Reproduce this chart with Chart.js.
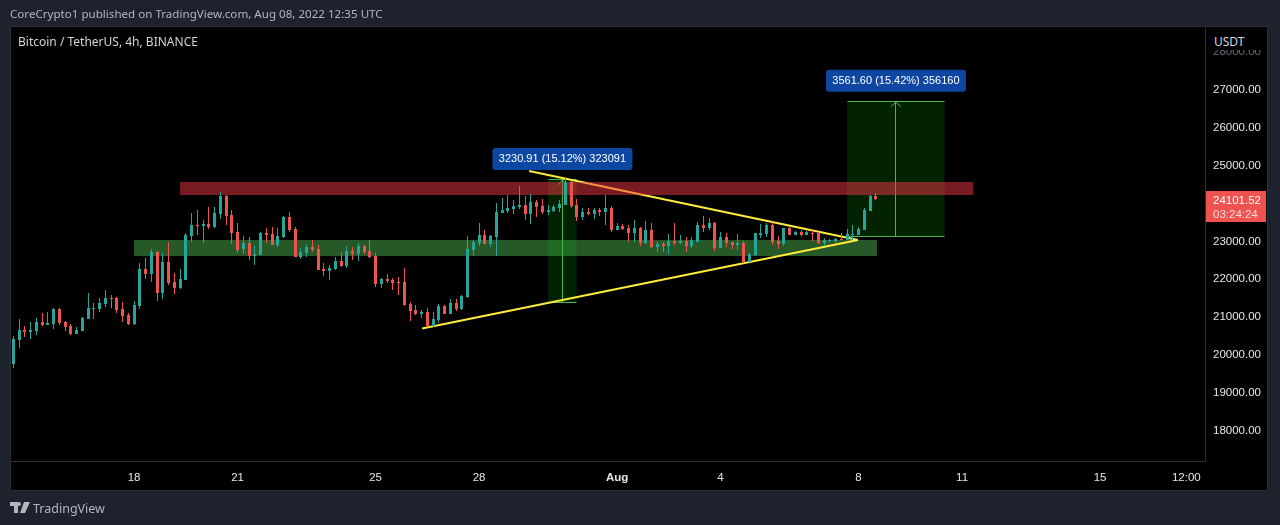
<!DOCTYPE html>
<html>
<head>
<meta charset="utf-8">
<title>BTCUSDT 4h</title>
<script src="https://cdn.jsdelivr.net/npm/chart.js@4/dist/chart.umd.min.js"></script>
<style>
  html, body { margin: 0; padding: 0; background: #1e222d; overflow: hidden; }
  body { width: 1280px; height: 525px; position: relative; font-family: "Noto Sans", sans-serif; }
  #frame { position: absolute; left: 10px; top: 26px; width: 1256px; height: 463px; background: #000; border: 1px solid #2a2e39; }
  #wrap { position: absolute; left: 0; top: 0; width: 1280px; height: 525px; }
  .txt { position: absolute; white-space: nowrap; }
  #published { left: 10px; top: 6px; font-size: 11.6px; color: #b2b5be; }
  #title { left: 18px; top: 33px; font-size: 12px; color: #d1d4dc; }
  #unit { left: 1206px; top: 28px; width: 60px; height: 22px; background: #000; }
  #unit span { position: absolute; left: 8px; top: 5px; font-size: 12px; color: #d1d4dc; }
  #brand { left: 33px; top: 500px; font-size: 12.5px; color: #b2b5be; }
  #logo { position: absolute; left: 10px; top: 502px; }
</style>
</head>
<body>
<div id="frame"></div>
<div id="wrap"><canvas id="chart" width="1280" height="525"></canvas></div>
<div class="txt" id="published">CoreCrypto1 published on TradingView.com, Aug 08, 2022 12:35 UTC</div>
<div class="txt" id="title">Bitcoin / TetherUS, 4h, BINANCE</div>
<div class="txt" id="unit"><span>USDT</span></div>
<svg id="logo" width="20" height="11" viewBox="0 0 20 11"><path fill="#b2b5be" d="M0 0h8v11H4V4H0zM9 0a2 2 0 1 1 0 4a2 2 0 0 1 0-4zM14 0h6l-5 11h-5z"/></svg>
<div class="txt" id="brand">TradingView</div>
<script>
// candles, one every 4h, index 0 = Jul 14 12:00
const opens = [
  19734,20368,20633,20580,20606,20844,20765,20791,21187,20844,20738,20527,20606,20923,21187,21187,21320,21478,21478,21187,
  21029,20791,21267,22244,22112,22694,21610,22429,21901,21742,21954,23116,23407,23380,23433,23354,23697,24173,23671,23222,
  22773,22931,22588,22614,23195,23169,22878,23090,23618,23301,22561,22667,22826,22773,22244,22192,22244,22456,22324,22720,
  22641,22852,22720,22588,21848,21980,21954,21901,21901,21320,21161,21056,21108,20738,20897,21267,21056,21346,21187,21504,
  22747,22932,23143,22905,23090,23724,23777,23830,23883,23936,23698,24015,23909,23751,23777,23856,23936,24543,23936,23619,
  23751,23698,23804,23751,23856,23275,23381,23328,23196,23328,22932,23275,22826,22905,22852,22985,22931,22993,22852,22958,
  23407,23328,23460,22799,23090,22958,22878,22931,22429,22614,23143,23169,23407,22984,22905,23328,23143,23222,23143,23195,
  23195,22931,22984,22984,23037,23010,23143,23143,23275,23777,24173
];
const highs = [
  20474,20923,20738,20835,20950,21082,21108,21214,21214,20870,20791,20712,20976,21610,21346,21478,21690,21557,21504,21372,
  21082,21399,22403,22535,22773,22720,22667,22958,22139,22244,23195,23724,23803,23539,23882,23882,24279,24199,23803,23460,
  23116,23090,22852,23222,23328,23354,23328,23645,23750,23354,22799,22905,23011,22878,22403,22350,22561,22694,22852,22826,
  22931,22878,23011,22667,22007,22112,22007,22033,22271,21372,21293,21161,21214,21108,21320,21293,21452,21452,21557,23116,
  23011,23451,23275,23143,23989,24121,24200,24068,24438,24173,24226,24068,24094,23936,23936,24068,24649,24570,24094,23856,
  23856,23856,23856,24200,23909,23460,23434,23407,23539,23354,23513,23460,22958,22958,23169,23460,23143,23090,23090,23486,
  23645,23592,23486,23222,23195,22958,23169,22984,22667,23195,23433,23460,23486,23116,23328,23354,23248,23275,23248,23275,
  23222,23063,23037,23063,23195,23301,23407,23354,23856,24199,24252
];
const lows = [
  19629,20157,20448,20395,20500,20738,20765,20659,20765,20606,20500,20527,20606,20923,20923,21108,21240,21214,21082,20844,
  20765,20765,21187,21980,21901,21399,21452,21822,21584,21716,21954,22958,23143,22931,23301,23328,23565,23407,22905,22667,
  22641,22482,22350,22614,22931,22878,22826,23063,23222,22561,22508,22561,22694,22218,22059,21954,22218,22297,22271,22482,
  22456,22641,22535,21769,21742,21874,21689,21557,21267,20870,21029,20950,20712,20720,20818,21056,21056,21135,21161,21478,
  22588,22852,22905,22826,22588,23724,23724,23698,23830,23539,23434,23619,23698,23671,23751,23751,23936,23856,23513,23539,
  23671,23566,23645,23407,23222,23275,23275,22958,22958,22852,22905,22800,22694,22694,22641,22879,22905,22694,22799,22958,
  23222,23275,22720,22799,22826,22773,22746,22403,22429,22588,23063,23090,22878,22773,22852,23143,23143,23116,23143,22984,
  22905,22852,22958,22931,23010,23010,23010,23143,23275,23777,24067
];
const closes = [
  20395,20633,20580,20633,20844,20765,20818,21187,20818,20712,20527,20633,20950,21214,21214,21346,21478,21452,21161,21003,
  20791,21293,22244,22112,22694,21610,22429,21874,21742,21980,23143,23407,23380,23433,23354,23724,24173,23645,23195,22746,
  22931,22588,22641,23195,23143,22878,23116,23618,23275,22561,22694,22826,22746,22218,22192,22271,22456,22324,22720,22641,
  22852,22694,22561,21848,21980,21927,21874,21874,21293,21135,21056,21108,20738,20923,21267,21056,21346,21187,21531,22773,
  22958,23143,22905,23117,23751,23804,23856,23909,23936,23698,24015,23883,23751,23804,23883,23962,24543,23909,23619,23751,
  23698,23812,23751,23856,23275,23381,23301,23196,23328,22932,23275,22826,22905,22852,22985,22932,22993,22852,23010,23407,
  23328,23460,22799,23090,22931,22878,22931,22429,22641,23195,23195,23407,22958,22905,23328,23143,23222,23143,23222,23169,
  22931,23010,23010,23037,23010,23169,23169,23301,23803,24173,24101.52
];

const priceTicks = [18000,19000,20000,21000,22000,23000,24000,25000,26000,27000,28000];
const timeTickPos = [21,39,63,81,105,123,147,165,189,204];
const timeTickLabels = ["18","21","25","28","Aug","4","8","11","15","12:00"];

// drawings: [from candle, to candle] and [low price, high price]
const redZoneX = [29,167],     redZonePrice = [24200,24543];
const greenZoneX = [21,150.2], greenZonePrice = [22588,23010];
const upperTrendX = [89.7,146.9], upperTrendPrice = [24834,23011];
const lowerTrendX = [71.1,146.9], lowerTrendPrice = [20672,23011];
const rangeAX = [93,98],   rangeAPrice = [21366,24597];
const rangeBX = [145,162], rangeBPrice = [23100,26662];
const rangeAText = "3230.91 (15.12%) 323091";
const rangeBText = "3561.60 (15.42%) 356160";

const UP = "#26a69a", DOWN = "#ef5350", YELLOW = "#ffeb3b", RANGE = "#46b94b";
const AXIS = "#2a2e39", TEXT = "#e4e6ea", FONT = '"Liberation Sans", sans-serif';

const candleColors = closes.map((c, i) => c >= opens[i] ? UP : DOWN);

// flat line with a fill down to a value, used for all the boxes
const box = (xs, prices, color, order) => ({
  type: "line",
  data: [{x: xs[0], y: prices[1]}, {x: xs[1], y: prices[1]}],
  fill: {value: prices[0]},
  backgroundColor: color,
  borderWidth: 0,
  pointRadius: 0,
  order
});
const line = (pts, color, width, order, snap) => ({
  type: "line",
  data: pts,
  borderColor: color,
  borderWidth: width,
  pointRadius: 0,
  fill: false,
  tension: 0,
  snap,
  order
});
// the measure drawing: box, top and bottom rules, arrow with head
const rangeSets = (xs, prices) => {
  const mid = (xs[0] + xs[1]) / 2;
  return [
    box(xs, prices, "rgba(10,190,10,0.18)", 8),
    line([{x: xs[0], y: prices[0]}, {x: xs[1], y: prices[0]}], RANGE, 1, 7, true),
    line([{x: xs[0], y: prices[1]}, {x: xs[1], y: prices[1]}], RANGE, 1, 7, true),
    line([{x: mid, y: prices[0]}, {x: mid, y: prices[1]}], RANGE, 1, 7, true),
    line([{x: mid - 0.8, y: prices[1] - 130}, {x: mid, y: prices[1]}, {x: mid + 0.8, y: prices[1] - 130}], RANGE, 1, 7)
  ];
};

// bars and rules on a fractional spacing smear, so snap them to whole pixels like the original
const snapMarks = {
  id: "snapMarks",
  beforeDatasetsDraw(chart) {
    chart.data.datasets.forEach((ds, i) => {
      const pts = chart.getDatasetMeta(i).data;
      if (ds.snap) {
        pts.forEach(el => {
          el.x = Math.floor(el.x) + 0.5;
          el.y = Math.floor(el.y) + 0.5;
        });
      }
      if (!ds.candlePart) return;
      pts.forEach(el => {
        el.x = Math.floor(el.x) + 0.5;
        el.y = Math.round(el.y);
        el.base = Math.round(el.base);
        if (el.base === el.y) el.base += 1;
        el.height = el.base - el.y;
      });
    });
  }
};

const callout = (ctx, x, y, text) => {
  ctx.fillStyle = "#0d47a1";
  ctx.beginPath();
  ctx.roundRect(x - 70, y - 26, 140, 22, 3);
  ctx.fill();
  ctx.fillStyle = "#ffffff";
  ctx.font = "11px " + FONT;
  ctx.textAlign = "center";
  ctx.textBaseline = "middle";
  ctx.fillText(text, x, y - 15);
};

const overlays = {
  id: "overlays",
  afterDraw(chart) {
    const {ctx, scales: {x, y}, chartArea} = chart;
    ctx.save();
    callout(ctx, x.getPixelForValue((rangeAX[0] + rangeAX[1]) / 2), y.getPixelForValue(rangeAPrice[1]) - 6, rangeAText);
    callout(ctx, x.getPixelForValue((rangeBX[0] + rangeBX[1]) / 2), y.getPixelForValue(rangeBPrice[1]) - 6, rangeBText);
    // last price tag
    const last = closes[closes.length - 1];
    const ty = Math.round(y.getPixelForValue(last));
    ctx.fillStyle = DOWN;
    ctx.fillRect(chartArea.right + 1, ty - 8, 60, 31);
    ctx.fillStyle = "#ffffff";
    ctx.font = "11.5px " + FONT;
    ctx.textAlign = "left";
    ctx.textBaseline = "middle";
    ctx.fillText(last.toFixed(2), chartArea.right + 8, ty + 2);
    ctx.fillStyle = "#fbd9d8";
    ctx.fillText("03:24:24", chartArea.right + 8, ty + 16);
    ctx.restore();
  }
};

new Chart(document.getElementById("chart"), {
  type: "bar",
  plugins: [snapMarks, overlays],
  data: {
    datasets: [
      box(greenZoneX, greenZonePrice, "rgba(76,175,80,0.5)", 9),
      ...rangeSets(rangeAX, rangeAPrice),
      ...rangeSets(rangeBX, rangeBPrice),
      line(upperTrendX.map((v, i) => ({x: v, y: upperTrendPrice[i]})), YELLOW, 2.2, 6),
      line(lowerTrendX.map((v, i) => ({x: v, y: lowerTrendPrice[i]})), YELLOW, 2.2, 6),
      box(redZoneX, redZonePrice, "rgba(242,54,69,0.5)", 5),
      {
        candlePart: true,
        grouped: false,
        barThickness: 1,
        inflateAmount: 0,
        borderWidth: 0,
        backgroundColor: candleColors,
        data: highs.map((h, i) => ({x: i, y: [lows[i], h]})),
        order: 2
      },
      {
        candlePart: true,
        grouped: false,
        barThickness: 3,
        inflateAmount: 0,
        borderWidth: 0,
        backgroundColor: candleColors,
        data: opens.map((o, i) => ({x: i, y: [Math.min(o, closes[i]), Math.max(o, closes[i])]})),
        order: 1
      }
    ]
  },
  options: {
    responsive: false,
    animation: false,
    devicePixelRatio: 1,
    layout: {padding: {left: 11, top: 27, right: 13, bottom: 35}},
    plugins: {legend: {display: false}, tooltip: {enabled: false}, title: {display: false}},
    scales: {
      x: {
        type: "linear",
        offset: false,
        min: -0.4,
        max: 207.25,
        grid: {display: false},
        border: {display: true, color: AXIS},
        afterBuildTicks: s => { s.ticks = timeTickPos.map(value => ({value})); },
        afterFit: s => { s.height = 29; },
        ticks: {
          autoSkip: false,
          maxRotation: 0,
          padding: 2,
          labelOffset: 0,
          color: TEXT,
          font: c => ({family: FONT, size: 11.5, weight: c.tick && c.tick.value === 105 ? "bold" : "normal"}),
          callback: v => timeTickLabels[timeTickPos.indexOf(v)]
        }
      },
      y: {
        type: "linear",
        position: "right",
        min: 17172,
        max: 28638,
        grid: {display: false},
        border: {display: true, color: AXIS},
        afterBuildTicks: s => { s.ticks = priceTicks.map(value => ({value})); },
        afterFit: s => { s.width = 62; },
        ticks: {
          autoSkip: false,
          padding: 0,
          labelOffset: 1,
          color: c => c.tick && c.tick.value === 28000 ? "#6a6d78" : TEXT,
          font: {family: FONT, size: 11.5},
          callback: v => v.toFixed(2)
        }
      }
    }
  }
});
</script>
</body>
</html>
